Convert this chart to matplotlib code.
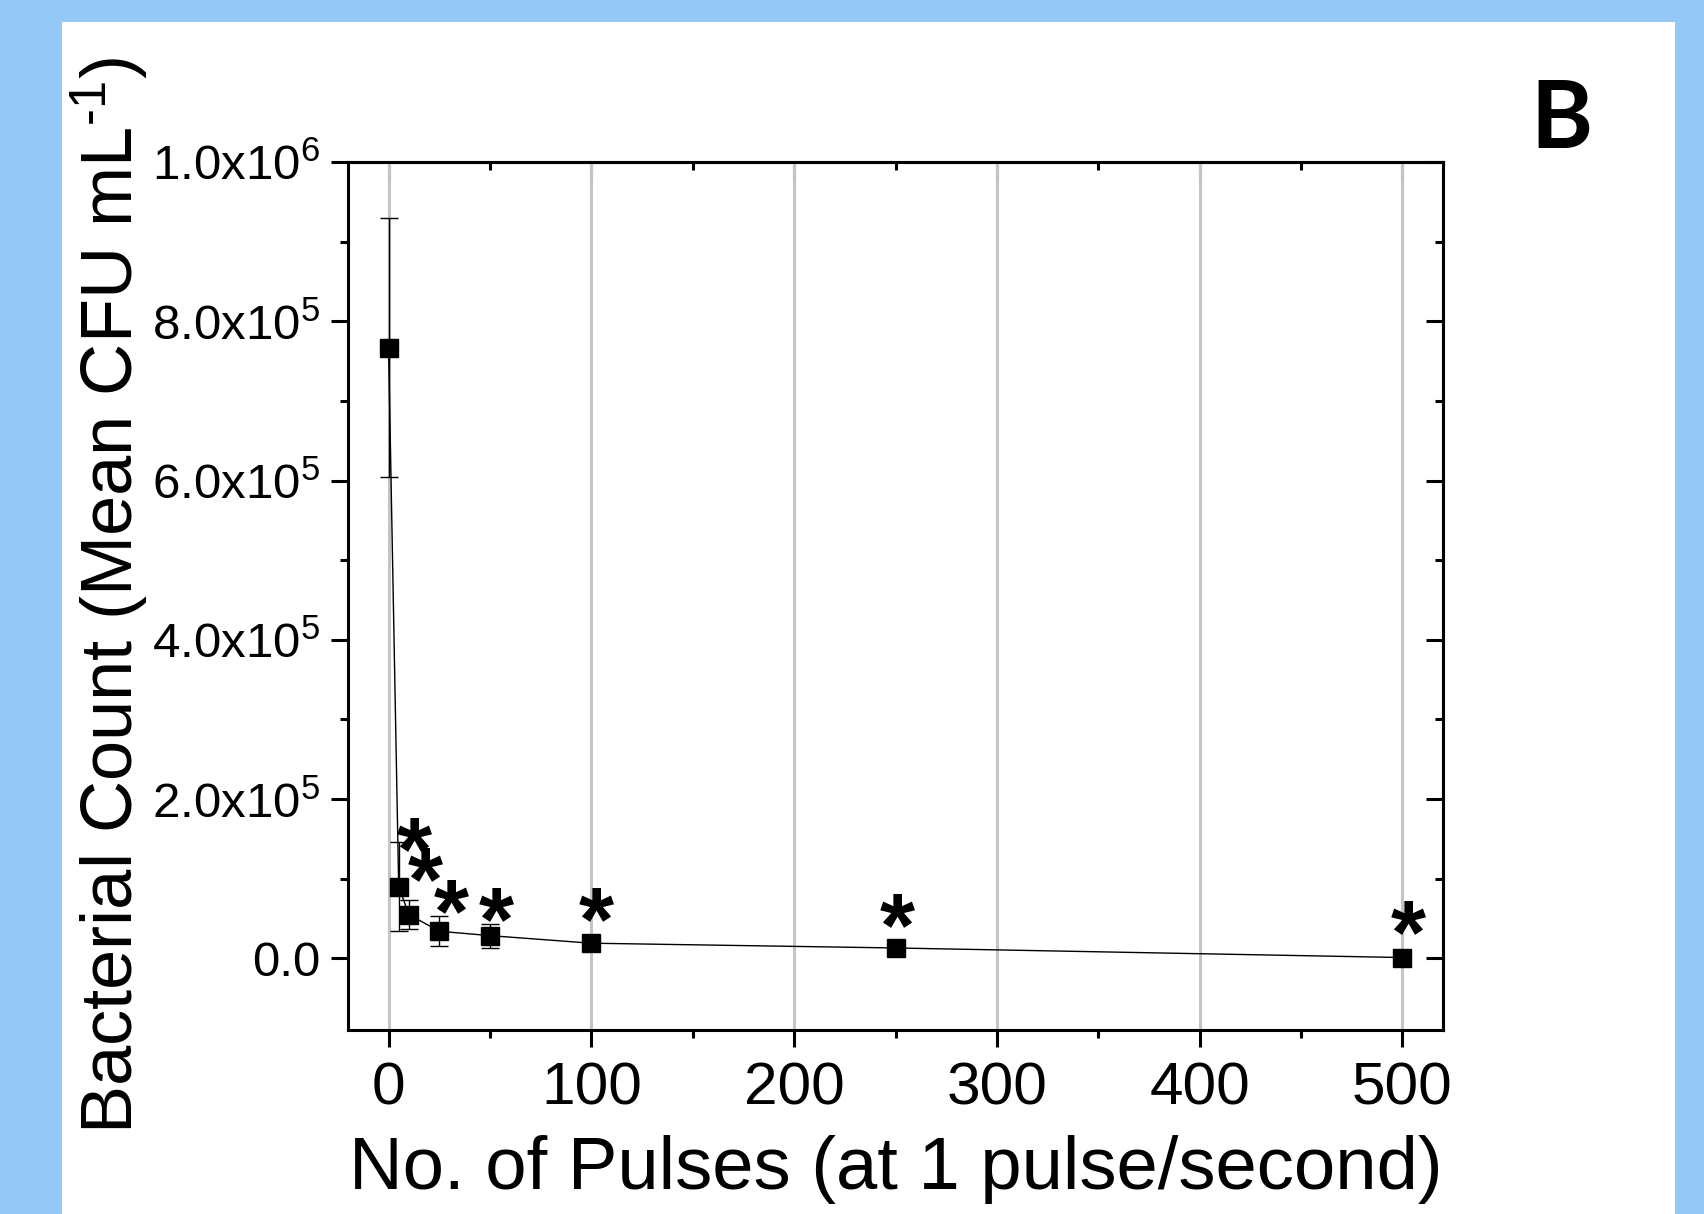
import numpy as np
import matplotlib
matplotlib.use("Agg")
import matplotlib.pyplot as plt
from matplotlib.patches import Rectangle
from matplotlib.ticker import FuncFormatter, MultipleLocator

plt.rcParams['font.family'] = ['Liberation Sans', 'DejaVu Sans']
plt.rcParams['mathtext.fontset'] = 'custom'
plt.rcParams['mathtext.rm'] = 'Liberation Sans'
plt.rcParams['mathtext.it'] = 'Liberation Sans:italic'
plt.rcParams['mathtext.bf'] = 'Liberation Sans:bold'

# data
pulses = [0, 5, 10, 25, 50, 100, 250, 500]
mean_cfu = [7.67e5, 9.0e4, 5.5e4, 3.4e4, 2.85e4, 1.9e4, 1.3e4, 1.0e3]
err_cfu = [1.63e5, 5.6e4, 1.85e4, 1.9e4, 1.5e4, 0, 0, 0]

# significance asterisks (centre of each star)
star_x = [12.8, 18.3, 30.8, 53.0, 102.4, 251.0, 503.0]
star_y = [1.52e5, 1.14e5, 7.5e4, 6.45e4, 6.45e4, 5.65e4, 4.8e4]

W, H = 1704, 1214
fig = plt.figure(figsize=(W / 100, H / 100), dpi=100, facecolor='#93c9f4')
fig.patches.append(Rectangle((62 / W, 0), (1675 - 62) / W, (H - 22) / H,
                             transform=fig.transFigure, facecolor='white',
                             edgecolor='none', zorder=-10))

ax = fig.add_axes([348 / W, 1 - 1030 / H, (1443 - 348) / W, (1030 - 162) / H])
ax.set_zorder(2)
ax.set_xlim(-20, 520)
ax.set_ylim(-0.9e5, 1.0e6)

ax.plot(pulses, mean_cfu, color='black', lw=1.0, zorder=3)
ax.errorbar(pulses, mean_cfu, yerr=err_cfu, fmt='none', ecolor='black',
            elinewidth=1.0, capsize=6.5, capthick=1.0, zorder=3)
ax.plot(pulses, mean_cfu, 's', color='black', ms=13, zorder=4)

for sx, sy in zip(star_x, star_y):
    ax.annotate('*', xy=(sx, sy), xytext=(0, -31), textcoords='offset points',
                ha='center', va='baseline', fontsize=65, fontweight='bold',
                zorder=5)

ax.xaxis.set_major_locator(MultipleLocator(100))
ax.xaxis.set_minor_locator(MultipleLocator(50))
ax.yaxis.set_major_locator(MultipleLocator(2e5))
ax.yaxis.set_minor_locator(MultipleLocator(1e5))
ax.grid(axis='x', which='major', color='#c4c4c4', lw=2.2, zorder=1)
ax.set_axisbelow(True)


def yfmt(v, pos):
    if abs(v) < 1:
        return '0.0'
    e = int(np.floor(np.log10(abs(v))))
    return '%.1fx10$^{\\mathregular{%d}}$' % (v / 10 ** e, e)


ax.yaxis.set_major_formatter(FuncFormatter(yfmt))

for side in ax.spines.values():
    side.set_linewidth(2.2)

ax.tick_params(axis='both', which='both', width=2.2)
ax.tick_params(axis='both', which='major', length=12)
ax.tick_params(axis='both', which='minor', length=6)
ax.tick_params(axis='x', which='both', direction='out', top=False)
ax.tick_params(axis='y', which='both', direction='out', right=False)
ax.tick_params(axis='x', labelsize=43.5, pad=11)
ax.tick_params(axis='y', labelsize=35.5, pad=8)

# mirrored inward ticks on top and right
axt = ax.secondary_xaxis('top')
axt.xaxis.set_major_locator(MultipleLocator(100))
axt.xaxis.set_minor_locator(MultipleLocator(50))
axt.tick_params(which='both', direction='in', width=2.2, labeltop=False)
axt.tick_params(which='major', length=12)
axt.tick_params(which='minor', length=6)
axt.spines['top'].set_linewidth(2.2)
axr = ax.secondary_yaxis('right')
axr.yaxis.set_major_locator(MultipleLocator(2e5))
axr.yaxis.set_minor_locator(MultipleLocator(1e5))
axr.tick_params(which='both', direction='in', width=2.2, labelright=False)
axr.tick_params(which='major', length=12)
axr.tick_params(which='minor', length=6)
axr.spines['right'].set_linewidth(2.2)

fig.text(895.5 / W, 1 - 1189 / H, 'No. of Pulses (at 1 pulse/second)',
         ha='center', va='baseline', fontsize=53.5)
fig.text(133 / W, 1 - 596 / H, r'Bacterial Count (Mean CFU mL$^{\text{-1}}$)',
         ha='center', va='baseline', rotation=90, rotation_mode='anchor',
         fontsize=52)
fig.text(1562 / W, 1 - 148 / H, 'B', ha='center', va='baseline',
         fontsize=68, fontweight='bold', family=['Lato', 'DejaVu Sans'])

fig.savefig('out.png', dpi=100, facecolor=fig.get_facecolor())
